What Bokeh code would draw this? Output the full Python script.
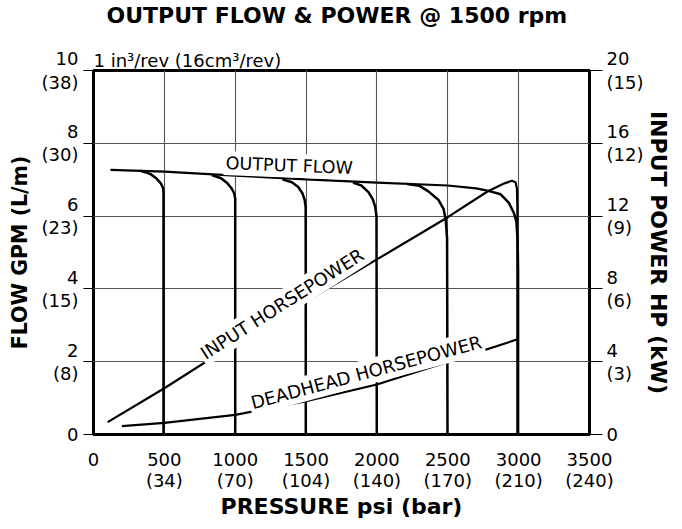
import math
from bokeh.plotting import figure
from bokeh.models import Range1d, LinearAxis, FixedTicker, Label, Title, Grid
from bokeh.embed import file_html
from bokeh.resources import INLINE

# ---------------- data ----------------
psi_ticks = [0, 500, 1000, 1500, 2000, 2500, 3000, 3500]
bar_labels = ["", "(34)", "(70)", "(104)", "(140)", "(170)", "(210)", "(240)"]
gpm_ticks = [0, 2, 4, 6, 8, 10]
lpm_labels = ["", "(8)", "(15)", "(23)", "(30)", "(38)"]
hp_ticks = [0, 4, 8, 12, 16, 20]
kw_labels = ["", "(3)", "(6)", "(9)", "(12)", "(15)"]
grid_psi = [500, 1000, 1500, 2000, 2500, 3000]
grid_gpm = [2, 4, 6, 8]

# output flow (GPM) vs pressure (psi)
flow_psi = [120, 500, 1000, 1500, 2000, 2500, 2700, 2780]
flow_gpm = [7.27, 7.22, 7.11, 7.01, 6.92, 6.84, 6.76, 6.70]

# relief-valve cut-off curves (GPM)
relief_500_psi = [326, 400, 445, 475, 490, 494, 494]
relief_500_gpm = [7.25, 7.16, 7.03, 6.90, 6.78, 6.65, 0]
relief_1000_psi = [835, 900, 945, 975, 993, 1000, 1000]
relief_1000_gpm = [7.13, 7.04, 6.90, 6.76, 6.62, 6.48, 0]
relief_1500_psi = [1333, 1400, 1445, 1475, 1490, 1497, 1498]
relief_1500_gpm = [7.01, 6.93, 6.80, 6.62, 6.45, 6.25, 0]
relief_2000_psi = [1831, 1890, 1940, 1970, 1988, 1997, 1999]
relief_2000_gpm = [6.92, 6.84, 6.66, 6.47, 6.25, 6.00, 0]
relief_2500_psi = [2213, 2300, 2363, 2433, 2470, 2485, 2495, 2498]
relief_2500_gpm = [6.88, 6.83, 6.68, 6.45, 6.20, 5.90, 5.40, 0]
relief_3000_psi = [2780, 2873, 2930, 2965, 2984, 2993, 2996, 2996]
relief_3000_gpm = [6.70, 6.60, 6.37, 6.10, 5.85, 5.30, 4.50, 0]

# input horsepower (HP)
input_psi = [100, 500, 1000, 1500, 2000, 2500, 2780, 2900, 2953, 2978, 2988, 2991, 2991]
input_hp = [0.68, 2.54, 5.02, 7.32, 9.62, 11.94, 13.35, 13.80, 13.94, 13.86, 13.50, 12.50, 0]

# deadhead horsepower (HP)
dead_psi = [200, 500, 1000, 1500, 2000, 2500, 2993]
dead_hp = [0.46, 0.64, 1.08, 1.83, 2.75, 3.99, 5.23]

FONT = "DejaVu Sans"

p = figure(width=674, height=521, output_backend="svg", toolbar_location=None,
           x_range=Range1d(0, 3500), y_range=Range1d(0, 10),
           min_border_left=93, min_border_right=77, min_border_top=67, min_border_bottom=78,
           x_axis_location=None, y_axis_location=None)
p.extra_y_ranges = {"hp": Range1d(0, 20)}
p.background_fill_color = "white"
p.border_fill_color = "white"
p.outline_line_color = "black"
p.outline_line_width = 3

def two_line(vals, subs):
    return {v: (f"{v}\n{s}" if s else f"{v}") for v, s in zip(vals, subs)}

left = LinearAxis(ticker=FixedTicker(ticks=gpm_ticks), major_label_overrides=two_line(gpm_ticks, lpm_labels),
                  axis_label="FLOW GPM (L/m)")
right = LinearAxis(y_range_name="hp", ticker=FixedTicker(ticks=hp_ticks),
                   major_label_overrides=two_line(hp_ticks, kw_labels), axis_label="INPUT POWER HP (kW)")
bottom = LinearAxis(ticker=FixedTicker(ticks=psi_ticks), major_label_overrides=two_line(psi_ticks, bar_labels),
                    axis_label="PRESSURE psi (bar)")
for ax, tout, so, lso in ((left, 10, 5, 7), (right, 13, 4, 0), (bottom, 0, 14, 0)):
    ax.axis_line_color = None
    ax.major_tick_out = tout
    ax.major_tick_in = 0
    ax.major_tick_line_color = "black"
    ax.major_tick_line_width = 1.2
    ax.minor_tick_line_color = None
    ax.major_label_text_font = FONT
    ax.major_label_text_font_size = "18px"
    ax.major_label_text_color = "black"
    ax.major_label_text_align = "center"
    ax.major_label_text_line_height = 1.1
    ax.major_label_standoff = so
    ax.axis_label_text_font = FONT
    ax.axis_label_text_font_style = "bold"
    ax.axis_label_text_font_size = "22px"
    ax.axis_label_text_color = "black"
    ax.axis_label_standoff = lso
left.axis_label_text_font_size = "20.5px"
bottom.major_label_text_line_height = 1.0
p.add_layout(left, "left")
p.add_layout(right, "right")
p.add_layout(bottom, "below")

# grid lines
p.add_layout(Grid(dimension=0, ticker=FixedTicker(ticks=grid_psi), grid_line_color="#555555", grid_line_width=1.1))
p.add_layout(Grid(dimension=1, ticker=FixedTicker(ticks=grid_gpm), grid_line_color="#555555", grid_line_width=1.1))

# titles (subtitle first = nearest the frame); the title carries an empty second line as spacing
p.add_layout(Title(text="1 in\u00b3/rev (16cm\u00b3/rev)", align="left", offset=0, text_font=FONT,
                   text_font_size="18px", text_font_style="normal", text_color="black", standoff=0), "above")
p.add_layout(Title(text="OUTPUT FLOW & POWER @ 1500 rpm\n\u00a0", align="left", offset=13, text_font=FONT,
                   text_font_size="22px", text_font_style="bold", text_color="black", standoff=0,
                   text_line_height=0.8), "above")

# curves
p.line(flow_psi, flow_gpm, line_color="black", line_width=2.2, line_join="round")
for xs, ys in ((relief_500_psi, relief_500_gpm), (relief_1000_psi, relief_1000_gpm),
               (relief_1500_psi, relief_1500_gpm), (relief_2000_psi, relief_2000_gpm),
               (relief_2500_psi, relief_2500_gpm), (relief_3000_psi, relief_3000_gpm)):
    p.line(xs, ys, line_color="black", line_width=2.5, line_join="round")
p.line(input_psi, input_hp, y_range_name="hp", line_color="black", line_width=2.2, line_join="round")
p.line(dead_psi, dead_hp, y_range_name="hp", line_color="black", line_width=2.2, line_join="round")

# curve labels
for txt, x, y, ang, rng, fs in (("OUTPUT FLOW", 1382, 7.39, -2.2, "default", "17.5px"),
                                ("INPUT HORSEPOWER", 1330, 7.18, 32.5, "hp", "18px"),
                                ("DEADHEAD HORSEPOWER", 1924, 3.42, 15.0, "hp", "18px")):
    p.add_layout(Label(x=x, y=y, y_range_name=rng, text=txt, angle=math.radians(ang),
                       text_font=FONT, text_font_size=fs, text_color="black", text_align="center",
                       text_baseline="middle", background_fill_color="white", padding=2))

open("out.html", "w").write(file_html(p, INLINE))
